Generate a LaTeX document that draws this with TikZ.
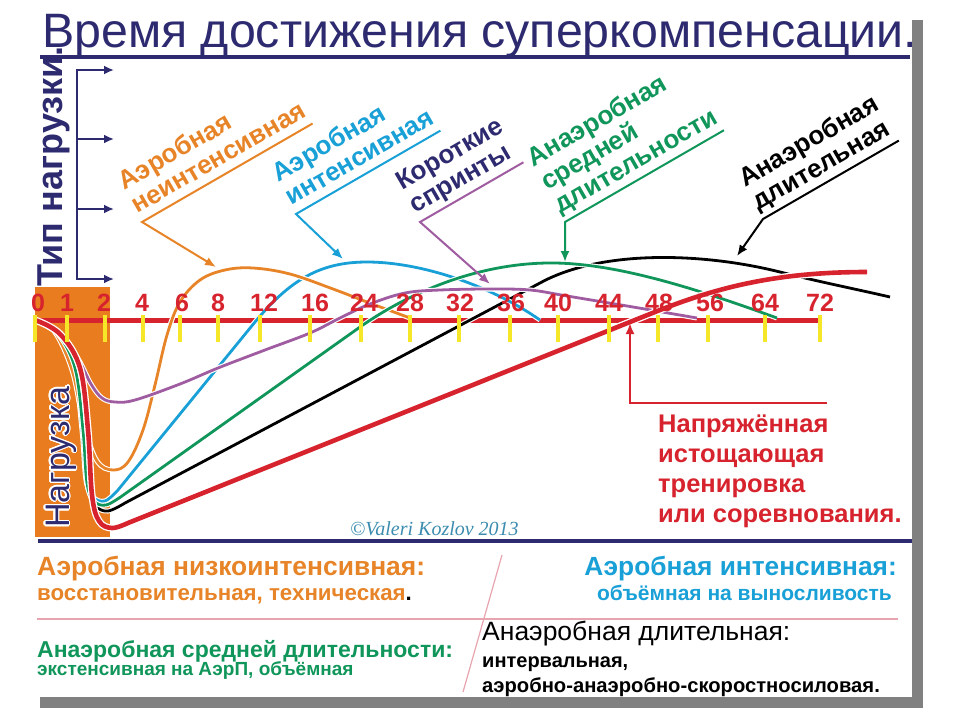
\documentclass[tikz,border=0pt]{standalone}
\usepackage{fontspec}
\setmainfont{Liberation Sans}
\newfontfamily\signfont{Liberation Serif}
\usepackage{contour}
\contourlength{1.3pt}
\usetikzlibrary{arrows.meta}
\definecolor{navyT}{RGB}{45,42,112}
\definecolor{cOrange}{RGB}{232,132,40}
\definecolor{cBar}{RGB}{232,124,30}
\definecolor{cCyan}{RGB}{24,160,215}
\definecolor{cPurple}{RGB}{160,92,160}
\definecolor{cGreen}{RGB}{16,150,90}
\definecolor{cRed}{RGB}{215,35,45}
\definecolor{cYellow}{RGB}{245,230,40}
\definecolor{cPink}{RGB}{232,165,175}
\definecolor{cSign}{RGB}{60,140,175}
\def\fs#1{\fontsize{#1}{#1}\selectfont}
\tikzset{
	curve/.style={draw=white, line width=1.1pt, double=#1, double distance=2.8pt},
	redcurve/.style={draw=white, line width=1.3pt, double=cRed, double distance=4.6pt},
	tickmark/.style={draw=cYellow, line width=4pt},
	ticknum/.style={text=cRed, font=\bfseries\fs{25}, anchor=base, inner sep=0pt},
	callout/.style={rotate=30, anchor=south west, align=left, inner xsep=0pt, inner ysep=4pt, text depth=5pt, font=\bfseries\fontsize{26}{27}\selectfont, text=#1},
	leader/.style={draw=#1, line width=2pt, -{Latex[length=11pt,width=9pt]}},
	yarrow/.style={draw=navyT, line width=2.5pt, -{Latex[length=10pt,width=9pt]}},
	legend/.style={inner sep=0pt, text=#1}
}

\begin{document}
\begin{tikzpicture}[x=1pt,y=-1pt]
		%%%%% START %%%%%
		\useasboundingbox[fill=white] (0,0) rectangle (960,720);
		
		\fill[gray] (912,20) rectangle (923,708);
		\fill[gray] (40,697) rectangle (923,708);
		
		\node[anchor=base west, inner sep=0pt, text=navyT, font=\fs{48.3}] (title) at (42,47) {Время достижения суперкомпенсации.};
		\draw[navyT, line width=4pt] (40,57) -- (910,57);
		
		\node[rotate=90, anchor=base west, inner sep=0pt, text=navyT, font=\bfseries\fs{36}] (ylabel) at (62,287) {Тип нагрузки.};
		\draw[navyT, line width=2.5pt] (77,69) -- (77,280);
		\draw[yarrow] (77,70) -- (114,70);
		\draw[yarrow] (77,139) -- (114,139);
		\draw[yarrow] (77,209) -- (114,209);
		\draw[yarrow] (77,279) -- (114,279);
		
		\fill[cBar] (35,287) rectangle (110,537);
		\node[rotate=90, anchor=base west, inner sep=0pt, text=navyT, font=\fs{34}] (load) at (69,528) {\contour{white}{Нагрузка}};
		
		\draw[cRed, line width=5pt] (35,320) -- (820,320);
		
		% curves
		\draw[curve=black] plot[smooth, tension=0.6] coordinates {(35,320) (58,334) (77,368) (85,430) (89,488) (96,506) (108,511) (125,503)} -- (540,283) .. controls (600,250) and (700,252) .. (780,272) .. controls (820,282) and (860,290) .. (890,297);
		\draw[curve=cCyan] plot[smooth, tension=0.6] coordinates {(35,320) (56,332) (74,368) (82,430) (86,480) (93,497) (105,501) (118,490)} -- (255,322) .. controls (290,280) and (320,262) .. (367,262) .. controls (420,262) and (490,285) .. (540,320);
		\draw[curve=cOrange] plot[smooth, tension=0.6] coordinates {(35,320) (54,331) (72,370) (84,425) (97,461) (113,470) (128,462) (143,430) (155,385) (167,335) (180,302) (200,280) (225,270) (253,268) (290,274) (333,289) (367,302) (410,318)};
		\draw[curve=cGreen] plot[smooth, tension=0.6] coordinates {(35,320) (57,333) (75,368) (83,430) (87,483) (94,501) (106,505) (122,496)} -- (360,327) .. controls (410,292) and (480,262) .. (555,263) .. controls (620,264) and (700,290) .. (777,318);
		\draw[curve=cPurple] plot[smooth, tension=0.6] coordinates {(35,320) (57,333) (77,357) (91,384) (102,398) (115,402) (135,400) (180,384) (218,368) (265,350) (310,333) (340,318) (370,304) (405,293) (440,290) (490,289) (530,290) (567,296) (633,307) (697,318)};
		\draw[redcurve] plot[smooth, tension=0.6] coordinates {(35,320) (60,334) (80,368) (88,430) (92,495) (99,521) (112,528) (128,523)} -- (655,312) .. controls (720,286) and (780,272) .. (867,272);
		
		\draw[tickmark] (35,315) -- (35,342) (67,315) -- (67,342) (105,315) -- (105,342) (143,315) -- (143,342) (180,315) -- (180,342) (218,315) -- (218,342) (260,315) -- (260,342) (310,315) -- (310,342) (361,315) -- (361,342) (410,315) -- (410,342) (459,315) -- (459,342) (510,315) -- (510,342) (558,315) -- (558,342) (609,315) -- (609,342) (658,315) -- (658,342) (708,315) -- (708,342) (765,315) -- (765,342) (820,315) -- (820,342);
		
		\node[ticknum] (n0) at (38,311) {0};
		\node[ticknum] (n1) at (67,311) {1};
		\node[ticknum] (n2) at (104,311) {2};
		\node[ticknum] (n4) at (142,311) {4};
		\node[ticknum] (n6) at (182,311) {6};
		\node[ticknum] (n8) at (218,311) {8};
		\node[ticknum] (n12) at (264,311) {12};
		\node[ticknum] (n16) at (315,311) {16};
		\node[ticknum] (n24) at (364,311) {24};
		\node[ticknum] (n28) at (410,311) {28};
		\node[ticknum] (n32) at (460,311) {32};
		\node[ticknum] (n36) at (511,311) {36};
		\node[ticknum] (n40) at (558,311) {40};
		\node[ticknum] (n44) at (609,311) {44};
		\node[ticknum] (n48) at (659,311) {48};
		\node[ticknum] (n56) at (710,311) {56};
		\node[ticknum] (n64) at (765,311) {64};
		\node[ticknum] (n72) at (820,311) {72};
		
		% callouts
		\coordinate (tipOrange) at (216,267);
		\coordinate (tipCyan) at (343,259);
		\coordinate (tipPurple) at (490,284);
		\coordinate (tipGreen) at (560,262);
		\coordinate (tipBlack) at (737,256);
		\node[callout=cOrange] (lblOrange) at (142,222) {Аэробная\\неинтенсивная};
		\node[callout=cCyan] (lblCyan) at (296,214) {Аэробная\\интенсивная};
		\node[callout=navyT] (lblSprint) at (420,222) {Короткие\\спринты};
		\node[callout=cGreen] (lblGreen) at (565,222) {Анаэробная\\средней\\длительности};
		\node[callout=black] (lblBlack) at (763,219) {Анаэробная\\длительная};
		\draw[leader=cOrange] (lblOrange.south east) -- (lblOrange.south west) -- (tipOrange);
		\draw[leader=cCyan] (lblCyan.south east) -- (lblCyan.south west) -- (tipCyan);
		\draw[leader=cPurple] (lblSprint.south east) -- (lblSprint.south west) -- (tipPurple);
		\draw[leader=cGreen] (lblGreen.south east) -- (lblGreen.south west) -- (lblGreen.south west |- tipGreen);
		\draw[leader=black] (lblBlack.south east) -- (lblBlack.south west) -- (tipBlack);
		
		\coordinate (hardEnd) at (827,403);
		\coordinate (hardTip) at (630,323);
		\draw[leader=cRed, line width=2.5pt] (hardEnd) -- (hardTip |- hardEnd) -- (hardTip);
		\node[anchor=north west, align=left, inner sep=0pt, text=cRed, font=\bfseries\fontsize{25.5}{30}\selectfont] (hard) at (658,415) {Напряжённая\\истощающая\\тренировка\\или соревнования.};
		
		\node[anchor=base west, inner sep=0pt, text=cSign, font=\signfont\itshape\fs{20}] (sign) at (350,535) {©Valeri Kozlov 2013};
		
		% legend
		\draw[navyT, line width=4pt] (38,541) -- (912,541);
		\draw[cPink, line width=1.5pt] (37,619) -- (898,619);
		\draw[cPink, line width=1.2pt] (502,555) -- (463,692);
		\node[legend=cOrange, anchor=base west, font=\bfseries\fs{26.4}] (legA) at (37,575) {Аэробная низкоинтенсивная:};
		\node[legend=cOrange, anchor=base west, font=\bfseries\fs{22.3}] (legAsub) at (37,600) {восстановительная, техническая\textcolor{black}{.}};
		\node[legend=cCyan, anchor=base east, font=\bfseries\fs{26.3}] (legB) at (897,575) {Аэробная интенсивная:};
		\node[legend=cCyan, anchor=base east, font=\bfseries\fs{21}] (legBsub) at (892,600) {объёмная на выносливость};
		\node[legend=cGreen, anchor=base west, font=\bfseries\fs{23}] (legC) at (37,657) {Анаэробная средней длительности:};
		\node[legend=cGreen, anchor=base west, font=\bfseries\fs{19}] (legCsub) at (37,675) {экстенсивная на АэрП, объёмная};
		\node[legend=black, anchor=base west, font=\fs{26.5}] (legD) at (482,640) {Анаэробная длительная:};
		\node[legend=black, anchor=base west, font=\bfseries\fs{20}] (legDsub) at (482,667) {интервальная,};
		\node[legend=black, anchor=base west, font=\bfseries\fs{20.2}] (legDsub2) at (482,692) {аэробно-анаэробно-скоростносиловая.};
		
		%%%%% END %%%%%
	\end{tikzpicture}
\end{document}
